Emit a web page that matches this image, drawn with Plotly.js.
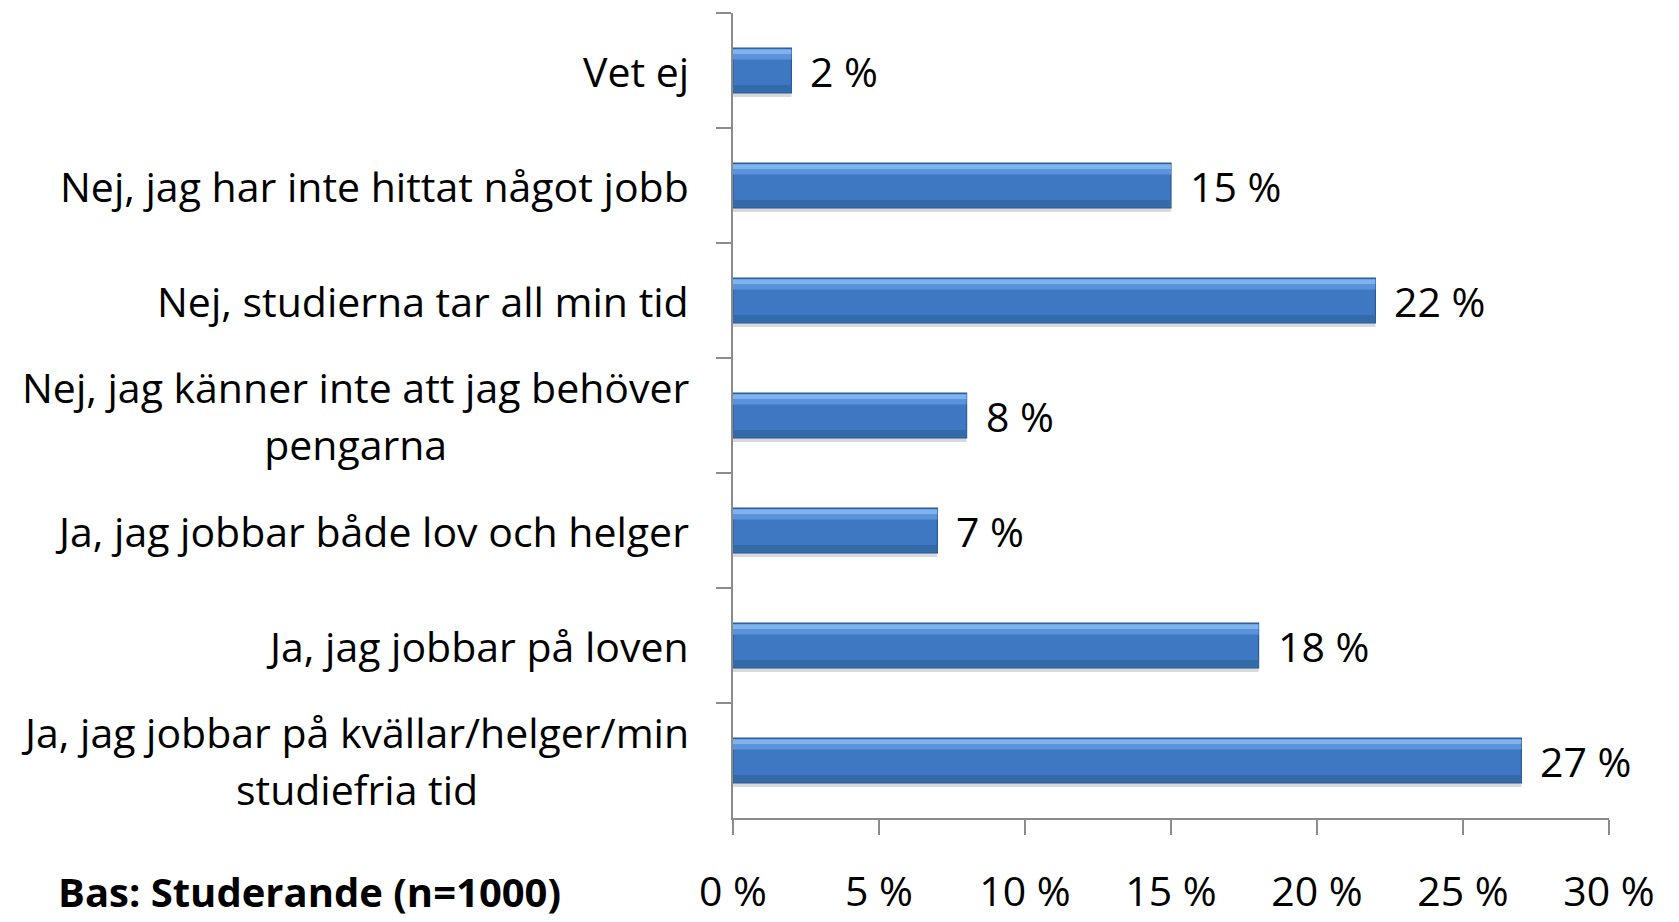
<!DOCTYPE html>
<html>
<head>
<meta charset="utf-8">
<script src="https://cdn.plot.ly/plotly-3.0.1.min.js"></script>
<style>html,body{margin:0;padding:0;background:#fff;}#chart{width:1679px;height:922px;}</style>
</head>
<body>
<div id="chart"></div>
<script>
const categories = [
  "Vet ej",
  "Nej, jag har inte hittat något jobb",
  "Nej, studierna tar all min tid",
  "Nej, jag känner inte att jag behöver<br>pengarna",
  "Ja, jag jobbar både lov och helger",
  "Ja, jag jobbar på loven",
  "Ja, jag jobbar på kvällar/helger/min<br>studiefria tid"
];
const values = [2, 15, 22, 8, 7, 18, 27];
const tickValues = [0, 5, 10, 15, 20, 25, 30];
const tickLabels = ["0 %", "5 %", "10 %", "15 %", "20 %", "25 %", "30 %"];
const footnote = "Bas: Studerande (n=1000)";

const FONT = "'Open Sans', 'Noto Sans', sans-serif";
const FS = 41;
const BW = 0.39;

const base = {type: 'bar', orientation: 'h', x: values, y: categories, hoverinfo: 'skip', showlegend: false};
const traces = [
  Object.assign({}, base, {width: BW, offset: -BW/2 + 0.035, marker: {color: 'rgba(0,0,0,0.15)', line: {width: 0}}}),
  Object.assign({}, base, {width: BW, offset: -BW/2, marker: {color: '#3e78c2', line: {color: '#2c5a93', width: 1.2}}}),
  Object.assign({}, base, {width: 0.045, offset: -BW/2 + 0.01, marker: {color: '#7fb3ee', line: {width: 0}}}),
  Object.assign({}, base, {width: 0.045, offset: -BW/2 + 0.055, marker: {color: '#5a93da', line: {width: 0}}}),
  Object.assign({}, base, {width: 0.06, offset: BW/2 - 0.07, marker: {color: '#336aa8', line: {width: 0}}})
];

const annotations = [];
categories.forEach((c, i) => {
  const lines = c.split('<br>').map(s => '<span style="font-size:' + FS + 'px">' + s + '</span>').join('<br>');
  annotations.push({
    xref: 'paper', yref: 'y', x: 0, y: c, xanchor: 'right', yanchor: 'middle',
    xshift: -42, align: 'center', showarrow: false, text: lines,
    font: {family: FONT, size: 44, color: '#000'}
  });
  annotations.push({
    xref: 'x', yref: 'y', x: values[i], y: c, xanchor: 'left', yanchor: 'middle',
    xshift: 17, showarrow: false, text: values[i] + ' %',
    font: {family: FONT, size: FS, color: '#000'}
  });
});
annotations.push({
  xref: 'paper', yref: 'paper', x: -0.7728, y: -0.128, xanchor: 'left', yanchor: 'bottom',
  showarrow: false, text: '<b>' + footnote + '</b>',
  font: {family: FONT, size: 40, color: '#000'}
});

const layout = {
  width: 1679, height: 922,
  margin: {l: 733, r: 70, t: 13, b: 104, pad: 0},
  paper_bgcolor: '#fff', plot_bgcolor: '#fff',
  barmode: 'overlay',
  font: {family: FONT, size: FS, color: '#000'},
  xaxis: {
    range: [0, 30], tickvals: tickValues, ticktext: tickLabels,
    showgrid: false, zeroline: false, showline: true, linecolor: '#8c8c8c', linewidth: 2,
    ticks: 'outside', ticklen: 15, tickwidth: 2, tickcolor: '#8c8c8c',
    ticklabelstandoff: 22, tickfont: {family: FONT, size: FS, color: '#000'}, fixedrange: true
  },
  yaxis: {
    type: 'category', categoryorder: 'array', categoryarray: categories,
    range: [6.5, -0.5], showticklabels: false,
    showgrid: false, zeroline: false, showline: true, linecolor: '#8c8c8c', linewidth: 2,
    ticks: 'outside', ticklen: 15, tickwidth: 2, tickcolor: '#8c8c8c', tickson: 'boundaries', fixedrange: true
  },
  annotations: annotations
};

Plotly.newPlot('chart', traces, layout, {displayModeBar: false, staticPlot: true});
</script>
</body>
</html>
